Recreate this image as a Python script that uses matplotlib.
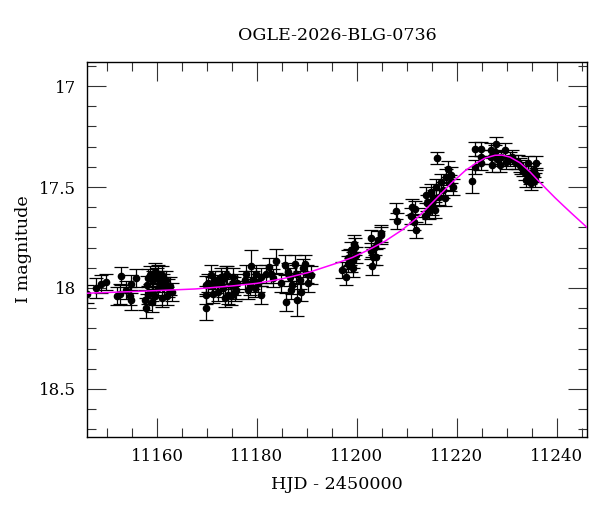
import matplotlib
matplotlib.use("Agg")
import matplotlib.pyplot as plt
from matplotlib.ticker import MultipleLocator, FuncFormatter

title = "OGLE-2026-BLG-0736"
xlabel = "HJD - 2450000"
ylabel = "I magnitude"

hjd = [11146.0, 11147.8, 11148.8, 11149.9, 11152.0, 11152.7, 11152.9, 11153.9, 11154.7, 11154.9,
       11155.8, 11154.9, 11157.9, 11159.0, 11158.0, 11158.3, 11158.7, 11159.3, 11159.7, 11160.0,
       11160.3, 11160.7, 11161.0, 11161.3, 11161.9, 11162.3, 11163.0, 11158.2, 11159.0, 11159.7,
       11160.3, 11161.0, 11162.0, 11157.7, 11161.5, 11162.7,
       11169.9, 11169.9, 11169.9, 11170.8, 11171.0, 11171.3, 11172.0, 11172.3, 11173.0, 11173.3,
       11174.0, 11174.3, 11174.9, 11175.3, 11175.7, 11176.0, 11170.3, 11171.6, 11172.9, 11173.6,
       11173.9, 11174.8, 11175.5, 11175.9,
       11177.6, 11177.9, 11178.6, 11178.9, 11179.3, 11179.9, 11180.3, 11180.9, 11180.9, 11181.9,
       11182.4, 11182.8, 11183.3, 11183.8, 11178.3, 11179.6,
       11184.9, 11185.6, 11185.9, 11186.3, 11186.6, 11187.1, 11187.6, 11187.9, 11188.1, 11188.6,
       11188.9, 11189.3, 11189.7, 11190.1, 11190.3, 11190.8, 11186.9,
       11197.1, 11197.9, 11198.3, 11198.6, 11198.9, 11199.3, 11199.6, 11199.9, 11199.5, 11198.3,
       11199.3, 11198.9,
       11202.9, 11203.1, 11203.3, 11203.6, 11203.9, 11204.3, 11204.8, 11204.9, 11202.8,
       11207.9, 11208.0,
       11210.8, 11211.1, 11211.5, 11211.7, 11211.9,
       11213.7, 11213.9, 11214.1, 11214.4, 11214.8, 11215.1, 11215.5, 11215.9, 11216.1, 11216.4,
       11216.8, 11217.3, 11217.7, 11217.9, 11218.3, 11218.6, 11218.9, 11219.3, 11215.6, 11214.6,
       11223.1, 11223.7, 11223.7, 11224.8, 11224.9, 11224.9,
       11226.8, 11226.9, 11227.1, 11227.6, 11227.9, 11228.1, 11228.6, 11228.9, 11229.6, 11229.9,
       11230.6, 11231.1, 11231.6, 11232.3, 11232.6, 11233.3, 11233.6, 11233.9, 11234.3, 11234.6,
       11234.9, 11235.5, 11235.6, 11235.9, 11235.8, 11234.9, 11232.9]

imag = [18.03, 18.00, 17.98, 17.97, 18.04, 18.03, 17.94, 18.01, 18.04, 17.98,
        17.95, 18.06, 18.10, 18.07, 17.985, 17.95, 17.935, 17.96, 17.92, 17.945,
        17.93, 17.96, 17.935, 17.975, 17.96, 18.00, 18.02, 18.035, 18.02, 18.04,
        18.00, 18.05, 18.04, 18.06, 17.99, 17.99,
        18.10, 18.035, 17.985, 17.935, 17.99, 18.03, 17.98, 18.02, 17.96, 18.00,
        17.935, 18.035, 17.985, 17.945, 18.02, 17.975, 17.975, 17.96, 17.945, 18.05,
        17.935, 18.04, 17.99, 18.01,
        17.96, 17.93, 17.99, 17.89, 17.96, 17.93, 17.975, 18.035, 17.945, 17.93,
        17.895, 17.93, 17.95, 17.865, 18.01, 18.00,
        17.975, 17.885, 18.07, 17.92, 17.945, 17.985, 17.88, 17.93, 18.06, 17.96,
        18.02, 17.90, 17.88, 17.93, 17.975, 17.935, 18.01,
        17.91, 17.945, 17.88, 17.845, 17.81, 17.86, 17.795, 17.835, 17.78, 17.85,
        17.90, 17.88,
        17.755, 17.89, 17.845, 17.795, 17.845, 17.76, 17.74, 17.73, 17.815,
        17.62, 17.67,
        17.645, 17.60, 17.675, 17.61, 17.715,
        17.645, 17.54, 17.58, 17.62, 17.525, 17.60, 17.555, 17.50, 17.355, 17.55,
        17.475, 17.515, 17.555, 17.45, 17.41, 17.48, 17.44, 17.50, 17.615, 17.58,
        17.47, 17.40, 17.31, 17.31, 17.35, 17.38,
        17.315, 17.35, 17.39, 17.325, 17.285, 17.36, 17.39, 17.35, 17.315, 17.375,
        17.36, 17.35, 17.375, 17.375, 17.39, 17.41, 17.43, 17.465, 17.38, 17.45,
        17.48, 17.415, 17.465, 17.44, 17.38, 17.43, 17.40]

ierr = [0.045, 0.05, 0.045, 0.04, 0.045, 0.05, 0.045, 0.045, 0.045, 0.045,
        0.045, 0.05, 0.05, 0.05, 0.045, 0.045, 0.045, 0.045, 0.045, 0.045,
        0.045, 0.045, 0.045, 0.045, 0.045, 0.045, 0.045, 0.045, 0.045, 0.045,
        0.045, 0.045, 0.045, 0.05, 0.045, 0.045,
        0.06, 0.045, 0.045, 0.05, 0.045, 0.045, 0.045, 0.045, 0.045, 0.045,
        0.045, 0.045, 0.045, 0.045, 0.045, 0.045, 0.045, 0.045, 0.045, 0.045,
        0.045, 0.045, 0.045, 0.045,
        0.045, 0.045, 0.045, 0.08, 0.045, 0.045, 0.045, 0.045, 0.045, 0.045,
        0.045, 0.045, 0.045, 0.06, 0.045, 0.045,
        0.045, 0.05, 0.045, 0.045, 0.045, 0.045, 0.045, 0.045, 0.08, 0.045,
        0.045, 0.045, 0.045, 0.045, 0.045, 0.045, 0.045,
        0.04, 0.04, 0.04, 0.04, 0.04, 0.04, 0.04, 0.04, 0.04, 0.04,
        0.045, 0.04,
        0.04, 0.045, 0.04, 0.04, 0.04, 0.04, 0.04, 0.04, 0.04,
        0.04, 0.04,
        0.04, 0.04, 0.04, 0.04, 0.04,
        0.04, 0.04, 0.04, 0.04, 0.04, 0.04, 0.04, 0.04, 0.03, 0.04,
        0.04, 0.04, 0.04, 0.04, 0.04, 0.04, 0.04, 0.04, 0.04, 0.04,
        0.06, 0.035, 0.035, 0.035, 0.035, 0.035,
        0.035, 0.035, 0.035, 0.035, 0.035, 0.035, 0.035, 0.035, 0.035, 0.035,
        0.035, 0.035, 0.035, 0.035, 0.035, 0.035, 0.035, 0.035, 0.035, 0.035,
        0.035, 0.035, 0.035, 0.035, 0.035, 0.035, 0.035]

model_hjd = [11146.0, 11155.0, 11160.0, 11167.6, 11175.0, 11180.0, 11185.0, 11190.2, 11195.6,
             11199.0, 11202.0, 11205.5, 11209.0, 11212.3, 11215.6, 11218.9, 11221.6, 11223.6,
             11225.6, 11227.6, 11229.0, 11230.6, 11232.6, 11234.6, 11236.3, 11238.0, 11239.6,
             11241.3, 11242.9, 11246.0]
model_mag = [18.026, 18.018, 18.013, 18.005, 17.99, 17.977, 17.955, 17.924, 17.88,
             17.85, 17.815, 17.77, 17.713, 17.647, 17.564, 17.48, 17.42, 17.385,
             17.357, 17.343, 17.342, 17.352, 17.38, 17.425, 17.47, 17.513, 17.553,
             17.593, 17.63, 17.70]

plt.rcParams['font.family'] = ['DejaVu Serif']
fig = plt.figure(figsize=(6.0, 5.12), dpi=100)
ax = fig.add_axes([87/600, 75/512, 500/600, 375/512])

ax.plot(model_hjd, model_mag, color='#ff00ff', lw=1.1, zorder=3)
_, caps, _ = ax.errorbar(hjd, imag, yerr=ierr, fmt='o', color='black', ms=4.5,
                         ecolor='black', elinewidth=0.9, capsize=4.8, capthick=0.9, zorder=2)
for c in caps:
    c.set_color('#444444')

ax.set_xlim(11146, 11246)
ax.set_ylim(18.738, 16.881)
ax.xaxis.set_major_locator(MultipleLocator(20))
ax.xaxis.set_minor_locator(MultipleLocator(5))
ax.yaxis.set_major_locator(MultipleLocator(0.5))
ax.yaxis.set_minor_locator(MultipleLocator(0.1))
ax.yaxis.set_major_formatter(FuncFormatter(lambda v, p: f"{v:g}"))
ax.tick_params(which='both', direction='in', top=True, right=True, labelsize=12, color='#333333')
ax.tick_params(which='major', length=13.5, width=0.8, pad=8)
ax.tick_params(which='minor', length=6.5, width=0.8)
for s in ax.spines.values():
    s.set_linewidth(1.0)

ax.set_title(title, fontsize=12.6, pad=16)
ax.set_xlabel(xlabel, fontsize=12.6, labelpad=8)
ax.set_ylabel(ylabel, fontsize=12.6, labelpad=5)

fig.savefig("out.png", dpi=100)
